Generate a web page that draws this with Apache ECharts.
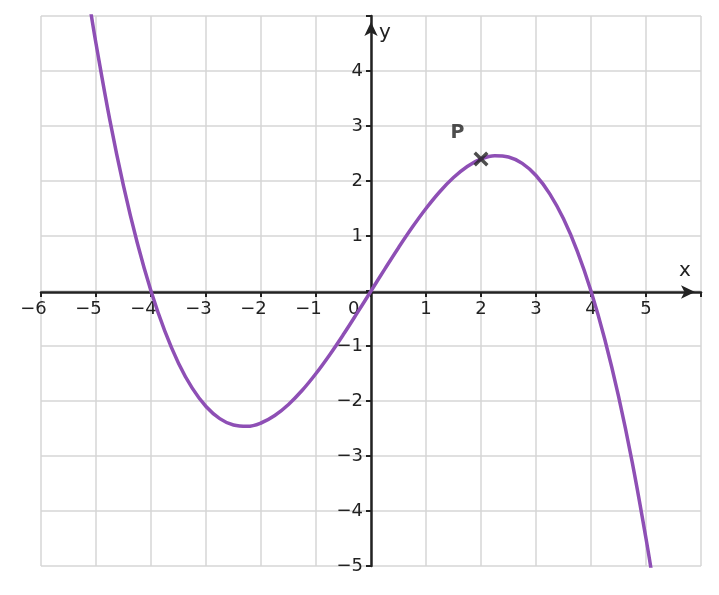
<!DOCTYPE html>
<html><head><meta charset="utf-8">
<script src="https://cdn.jsdelivr.net/npm/echarts@6/dist/echarts.min.js"></script>
<style>html,body{margin:0;background:#fff}#c{width:719px;height:595px}</style>
</head><body><div id="c"></div>
<script>
const xs=[-5.1,-5,-4.75,-4.5,-4.25,-4,-3.75,-3.5,-3.25,-3,-2.75,-2.5,-2.25,-2,-1.75,-1.5,-1.25,-1,-0.75,-0.5,-0.25,0,0.25,0.5,0.75,1,1.25,1.5,1.75,2,2.25,2.5,2.75,3,3.25,3.5,3.75,4,4.25,4.5,4.75,5,5.1];
const ys=[5.105,4.5,3.117,1.9125,0.877,0,-0.727,-1.3125,-1.767,-2.1,-2.32,-2.4375,-2.461,-2.4,-2.264,-2.0625,-1.805,-1.5,-1.158,-0.7875,-0.398,0,0.398,0.7875,1.158,1.5,1.805,2.0625,2.264,2.4,2.461,2.4375,2.32,2.1,1.767,1.3125,0.727,0,-0.877,-1.9125,-3.117,-4.5,-5.105];
const pointP=[2,2.4];
const ch=echarts.init(document.getElementById('c'));
const F='DejaVu Sans';
const fmtX=v=>{if(v===0)return '{d|0}{p|000}';if(v>=6)return '';return v<0?'{d|−'+(-v)+'}{p|−}':'{d|'+v+'}';};
const fmtY=v=>{if(v===0||v>=5)return '';return v<0?'−'+(-v):''+v;};
ch.setOption({
 animation:false,
 grid:{left:41,right:18,top:16,bottom:29},
 xAxis:{type:'value',min:-6,max:6,interval:1,offset:-274,
  axisLine:{onZero:false,lineStyle:{color:'#222',width:2.5},symbol:['none','arrow'],symbolSize:[10,14],symbolOffset:[0,-6]},
  axisTick:{show:true,length:5,lineStyle:{color:'#222',width:2}},
  axisLabel:{formatter:fmtX,margin:8,rich:{d:{fontFamily:F,fontSize:18,color:'#222'},p:{fontFamily:F,fontSize:18,color:'rgba(0,0,0,0)'}}},
  splitLine:{lineStyle:{color:'#d6d6d6',width:1.5}}},
 yAxis:{type:'value',min:-5,max:5,interval:1,offset:-330,
  axisLine:{onZero:false,lineStyle:{color:'#222',width:2.5},symbol:['none','arrow'],symbolSize:[10,14],symbolOffset:[0,-6]},
  axisTick:{show:true,length:5,lineStyle:{color:'#222',width:2}},
  axisLabel:{formatter:fmtY,margin:8,fontFamily:F,fontSize:18,color:'#222'},
  splitLine:{lineStyle:{color:'#d6d6d6',width:1.5}}},
 series:[
  {type:'line',data:xs.map((x,i)=>[x,ys[i]]),smooth:0.4,showSymbol:false,lineStyle:{color:'#8e4fb5',width:3.5},z:3},
  {type:'scatter',data:[pointP],symbol:'path://M0,1.6L1.6,0L5,3.4L8.4,0L10,1.6L6.6,5L10,8.4L8.4,10L5,6.6L1.6,10L0,8.4L3.4,5Z',symbolSize:15,
   itemStyle:{color:'#222'},z:4,
   label:{show:true,formatter:'P',position:'left',offset:[-4,-26],fontFamily:F,fontSize:19,fontWeight:'bold',color:'#222'}}
 ],
 graphic:[
  {type:'text',left:679,top:261,style:{text:'x',font:'20px "DejaVu Sans"',fill:'#222'}},
  {type:'text',left:379,top:23,style:{text:'y',font:'20px "DejaVu Sans"',fill:'#222'}}
 ]
});
</script></body></html>
